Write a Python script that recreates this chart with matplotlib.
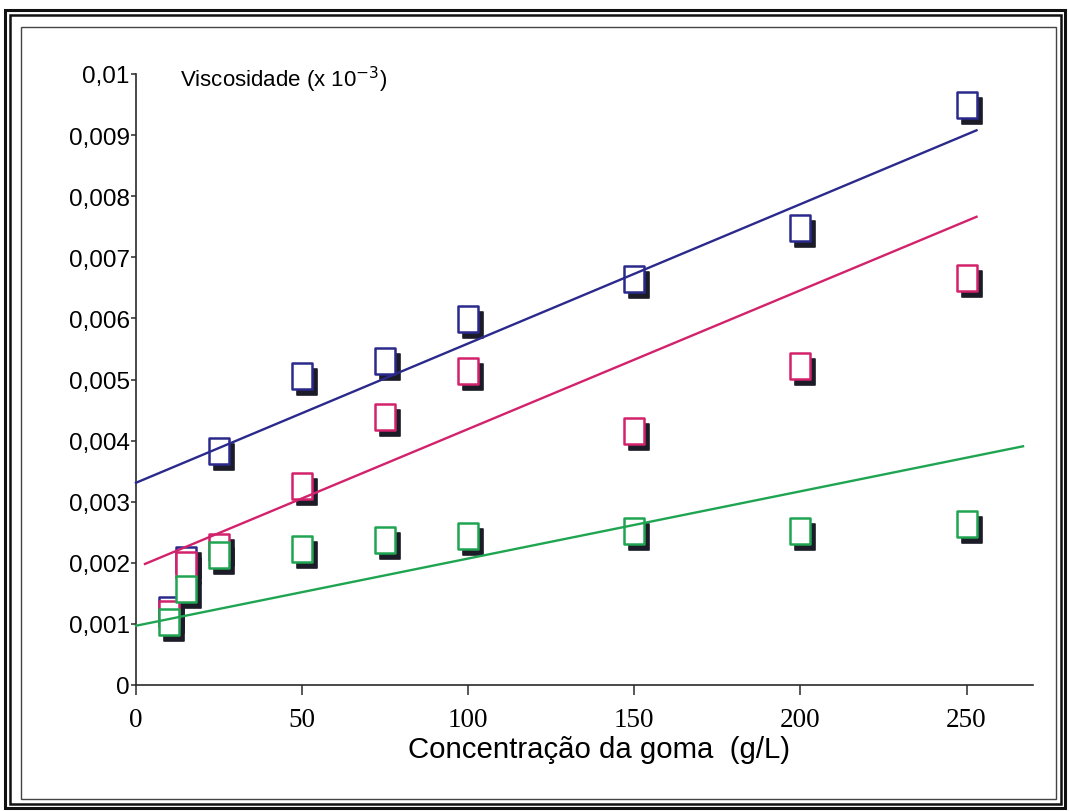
import matplotlib
matplotlib.use("Agg")
import matplotlib.pyplot as plt
from matplotlib.patches import Rectangle
from matplotlib.transforms import IdentityTransform, offset_copy
from matplotlib.path import Path
import numpy as np

# Gum concentration (g/L)
conc = [10, 15, 25, 50, 75, 100, 150, 200, 250]

# Viscosity readings for the three series
visc_blue = [0.00123, 0.00205, 0.00383, 0.00505, 0.00530, 0.00599, 0.00664, 0.00748, 0.00949]
visc_magenta = [0.00116, 0.00196, 0.00226, 0.00326, 0.00439, 0.00514, 0.00416, 0.00522, 0.00666]
visc_green = [0.00103, 0.00157, 0.00213, 0.00223, 0.00237, 0.00244, 0.00252, 0.00252, 0.00263]

# Linear trend lines: intercept, slope and drawn x-range
trend_intercept = [0.00331, 0.00192, 0.00097]
trend_slope = [2.28e-5, 2.27e-5, 1.10e-5]
trend_x_start = [0, 2.7, 0]
trend_x_end = [253, 253, 267]

colors = ["#2b2a8c", "#d3226c", "#1fa552"]

x_ticks = [0, 50, 100, 150, 200, 250]
x_tick_labels = ["0", "50", "100", "150", "200", "250"]
y_ticks = [0, 0.001, 0.002, 0.003, 0.004, 0.005, 0.006, 0.007, 0.008, 0.009, 0.01]
y_tick_labels = ["0", "0,001", "0,002", "0,003", "0,004", "0,005", "0,006",
                 "0,007", "0,008", "0,009", "0,01"]

W, H = 1069, 812
fig = plt.figure(figsize=(W / 100, H / 100), dpi=100)
fig.patch.set_facecolor("white")

left, right, top, bottom = 136, 1033, 75, 686
ax = fig.add_axes([left / W, 1 - bottom / H, (right - left) / W, (bottom - top) / H])
ax.set_xlim(0, 270)
ax.set_ylim(0, 0.01)
for s in ("top", "right"):
    ax.spines[s].set_visible(False)
for s in ("left", "bottom"):
    ax.spines[s].set_color("#2a2a2a")
    ax.spines[s].set_linewidth(1.2)

ax.set_xticks(x_ticks)
ax.set_xticklabels(x_tick_labels, fontfamily="Liberation Serif", fontsize=19.5)
ax.set_yticks(y_ticks)
ax.set_yticklabels(y_tick_labels, fontfamily="Liberation Sans", fontsize=17.5)
ax.tick_params(axis="x", direction="out", length=7.5, width=1.1, color="#2a2a2a", pad=8)
ax.tick_params(axis="y", direction="out", length=3.5, width=1.1, color="#2a2a2a", pad=1)

# Upright rectangle marker
rect_marker = Path([(-10, -13), (10, -13), (10, 13), (-10, 13), (-10, -13)],
                   [Path.MOVETO, Path.LINETO, Path.LINETO, Path.LINETO, Path.CLOSEPOLY])
shadow_tr = offset_copy(ax.transData, fig=fig, x=5, y=-6, units="dots")

series = [visc_blue, visc_magenta, visc_green]
for vals, col in zip(series, colors):
    ax.plot(conc, vals, linestyle="none", marker=rect_marker, markersize=18.5,
            markerfacecolor="#1c1c28", markeredgecolor="#1c1c28", markeredgewidth=1.2,
            transform=shadow_tr, clip_on=False, zorder=2)
    ax.plot(conc, vals, linestyle="none", marker=rect_marker, markersize=18.5,
            markerfacecolor="white", markeredgecolor=col, markeredgewidth=1.8,
            clip_on=False, zorder=3)

for b0, b1, xs, xe, col in zip(trend_intercept, trend_slope, trend_x_start, trend_x_end, colors):
    xx = np.array([xs, xe])
    ax.plot(xx, b0 + b1 * xx, color=col, linewidth=1.7, zorder=4, clip_on=False)

fig.text(180 / W, 1 - 87 / H, "Viscosidade (x 10$^{-3}$)",
         fontfamily="Liberation Sans", fontsize=16, va="baseline", ha="left")

fig.text(599 / W, 1 - 758 / H, "Concentração da goma  (g/L)",
         fontfamily="Liberation Sans", fontsize=21.2, ha="center", va="baseline")

# Page frame: heavy double outer border and a thin inner border
def frame(x0, y0, x1, y1, lw, color="#111111"):
    fig.add_artist(Rectangle((x0, H - y1), x1 - x0, y1 - y0, fill=False,
                             linewidth=lw, edgecolor=color, transform=IdentityTransform()))

frame(5, 11, 1065, 809, 2.2)
frame(10, 16, 1061, 805, 1.8)
frame(21, 28, 1056, 800, 1.0, "#444444")

fig.savefig("out.png", dpi=100, facecolor="white")
